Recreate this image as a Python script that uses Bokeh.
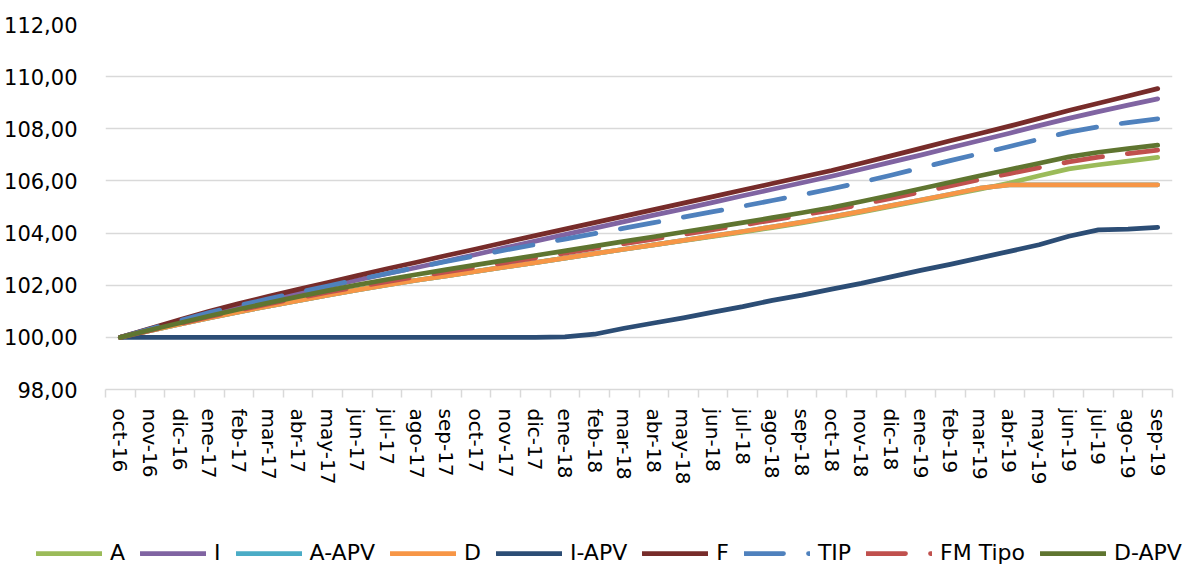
from bokeh.plotting import figure
from bokeh.models import Range1d, FixedTicker, Legend, LegendItem
from bokeh.embed import file_html
from bokeh.resources import INLINE

months = ["oct-16", "nov-16", "dic-16", "ene-17", "feb-17", "mar-17", "abr-17", "may-17",
          "jun-17", "jul-17", "ago-17", "sep-17", "oct-17", "nov-17", "dic-17", "ene-18",
          "feb-18", "mar-18", "abr-18", "may-18", "jun-18", "jul-18", "ago-18", "sep-18",
          "oct-18", "nov-18", "dic-18", "ene-19", "feb-19", "mar-19", "abr-19", "may-19",
          "jun-19", "jul-19", "ago-19", "sep-19"]

A = [100.00, 100.26, 100.51, 100.75, 100.98, 101.20, 101.41, 101.62, 101.82, 102.01,
     102.19, 102.36, 102.53, 102.70, 102.87, 103.04, 103.21, 103.38, 103.55, 103.71,
     103.87, 104.04, 104.21, 104.39, 104.59, 104.80, 105.02, 105.24, 105.46, 105.68,
     105.92, 106.20, 106.46, 106.62, 106.76, 106.90]
I = [100.00, 100.32, 100.63, 100.94, 101.21, 101.46, 101.71, 101.95, 102.20, 102.44,
     102.68, 102.93, 103.18, 103.44, 103.69, 103.94, 104.19, 104.44, 104.69, 104.93,
     105.18, 105.43, 105.68, 105.93, 106.18, 106.45, 106.72, 106.99, 107.27, 107.55,
     107.83, 108.12, 108.40, 108.66, 108.91, 109.15]
A_APV = [100.00, 100.26, 100.51, 100.75, 100.98, 101.20, 101.41, 101.62, 101.82, 102.01,
         102.19, 102.36, 102.53, 102.70, 102.87, 103.04, 103.21, 103.38, 103.55, 103.72,
         103.89, 104.06, 104.24, 104.42, 104.62, 104.83, 105.05, 105.27, 105.49, 105.72,
         105.85, 105.85, 105.85, 105.85, 105.85, 105.85]
D = [100.00, 100.26, 100.51, 100.75, 100.98, 101.20, 101.41, 101.62, 101.82, 102.01,
     102.19, 102.36, 102.53, 102.70, 102.87, 103.04, 103.21, 103.38, 103.55, 103.72,
     103.89, 104.06, 104.24, 104.42, 104.62, 104.83, 105.05, 105.27, 105.49, 105.72,
     105.85, 105.85, 105.85, 105.85, 105.85, 105.85]
I_APV = [100.00, 100.00, 100.00, 100.00, 100.00, 100.00, 100.00, 100.00, 100.00, 100.00,
         100.00, 100.00, 100.00, 100.00, 100.00, 100.02, 100.12, 100.35, 100.55, 100.75,
         100.97, 101.18, 101.42, 101.62, 101.85, 102.07, 102.32, 102.57, 102.80, 103.05,
         103.30, 103.55, 103.88, 104.12, 104.15, 104.22]
F = [100.00, 100.34, 100.67, 101.00, 101.30, 101.57, 101.84, 102.10, 102.37, 102.63,
     102.88, 103.14, 103.39, 103.65, 103.90, 104.15, 104.40, 104.65, 104.90, 105.15,
     105.40, 105.65, 105.90, 106.15, 106.40, 106.68, 106.96, 107.25, 107.54, 107.82,
     108.10, 108.40, 108.70, 108.98, 109.26, 109.54]
TIP = [100.00, 100.32, 100.64, 100.95, 101.22, 101.48, 101.73, 101.97, 102.21, 102.45,
       102.68, 102.91, 103.13, 103.35, 103.56, 103.77, 103.98, 104.19, 104.40, 104.61,
       104.82, 105.03, 105.25, 105.47, 105.70, 105.95, 106.22, 106.50, 106.78, 107.05,
       107.32, 107.60, 107.87, 108.08, 108.24, 108.38]
FM_Tipo = [100.00, 100.27, 100.53, 100.79, 101.04, 101.28, 101.51, 101.73, 101.94, 102.14,
           102.33, 102.51, 102.69, 102.87, 103.05, 103.23, 103.41, 103.59, 103.77, 103.95,
           104.13, 104.31, 104.50, 104.69, 104.88, 105.10, 105.33, 105.57, 105.81, 106.05,
           106.28, 106.51, 106.73, 106.91, 107.05, 107.18]
D_APV = [100.00, 100.28, 100.55, 100.82, 101.08, 101.32, 101.56, 101.79, 102.01, 102.22,
         102.41, 102.60, 102.78, 102.96, 103.14, 103.32, 103.50, 103.68, 103.86, 104.04,
         104.22, 104.40, 104.59, 104.78, 104.98, 105.21, 105.45, 105.70, 105.95, 106.20,
         106.44, 106.68, 106.92, 107.10, 107.24, 107.37]

series_names = ["A", "I", "A-APV", "D", "I-APV", "F", "TIP", "FM Tipo", "D-APV"]
series_values = [A, I, A_APV, D, I_APV, F, TIP, FM_Tipo, D_APV]
series_colors = ["#9BBB59", "#8064A2", "#4BACC6", "#F79646", "#2C4D75",
                 "#772C2A", "#4F81BD", "#C0504D", "#5F7530"]
series_dash = ["solid", "solid", "solid", "solid", "solid", "solid", "39 25", "39 25", "solid"]

y_ticks = [98, 100, 102, 104, 106, 108, 110, 112]

FONT = "DejaVu Sans"
GRID = "#d9d9d9"
LW = 4.75

x = list(range(len(months)))

p = figure(width=1191, height=510, output_backend="svg", toolbar_location=None,
           x_range=Range1d(-0.5, len(months) - 0.5), y_range=Range1d(98, 112),
           min_border_left=105, min_border_right=19, min_border_top=24, min_border_bottom=121)
p.outline_line_color = None
p.background_fill_color = "white"
p.border_fill_color = "white"

for vals, col, dash in zip(series_values, series_colors, series_dash):
    p.line(x, vals, line_color=col, line_width=LW, line_dash=dash,
           line_cap="round", line_join="round")

# x axis
p.xaxis.ticker = FixedTicker(ticks=x, minor_ticks=[i - 0.5 for i in range(len(months) + 1)])
p.xaxis.major_label_overrides = {i: m for i, m in enumerate(months)}
p.xaxis.major_label_orientation = "vertical"
p.xaxis.major_label_text_font = FONT
p.xaxis.major_label_text_font_size = "20px"
p.xaxis.major_label_text_color = "#000000"
p.xaxis.major_label_standoff = 11
p.xaxis.major_tick_line_color = None
p.xaxis.major_tick_in = 0
p.xaxis.major_tick_out = 0
p.xaxis.minor_tick_line_color = GRID
p.xaxis.minor_tick_line_width = 1.5
p.xaxis.minor_tick_in = 0
p.xaxis.minor_tick_out = 8
p.xaxis.axis_line_color = GRID
p.xaxis.axis_line_width = 1.5
p.xgrid.grid_line_color = None

# y axis
p.yaxis.ticker = FixedTicker(ticks=y_ticks)
p.yaxis.major_label_overrides = {t: f"{t},00" for t in y_ticks}
p.yaxis.major_label_text_font = FONT
p.yaxis.major_label_text_font_size = "21px"
p.yaxis.major_label_text_color = "#000000"
p.yaxis.major_label_standoff = 22
p.yaxis.axis_line_color = None
p.yaxis.major_tick_line_color = None
p.yaxis.minor_tick_line_color = None
p.ygrid.ticker = FixedTicker(ticks=y_ticks)
p.ygrid.grid_line_color = GRID
p.ygrid.grid_line_width = 1.5

# legend strip below the chart (its series lie outside its ranges, only the legend shows)
pl = figure(width=1191, height=56, output_backend="svg", toolbar_location=None,
            x_axis_location=None, y_axis_location=None, min_border=0,
            x_range=Range1d(-0.5, len(months) - 0.5), y_range=Range1d(0, 1))
pl.outline_line_color = None
pl.grid.visible = False
pl.border_fill_color = "white"
pl.background_fill_alpha = 0
items = []
for name, vals, col, dash in zip(series_names, series_values, series_colors, series_dash):
    r = pl.line(x, vals, line_color=col, line_width=LW, line_dash=dash,
                line_cap="round", line_join="round")
    items.append(LegendItem(label=name, renderers=[r]))

legend = Legend(items=items, orientation="horizontal", location=(36, 1),
                glyph_width=66, glyph_height=20, label_standoff=8, spacing=15,
                label_width=0, label_height=20, padding=0, margin=0,
                border_line_color=None, background_fill_alpha=0,
                label_text_font=FONT, label_text_font_size="22px",
                label_text_color="#000000")
pl.add_layout(legend, "center")

open("out.html", "w").write(file_html([p, pl], INLINE))
